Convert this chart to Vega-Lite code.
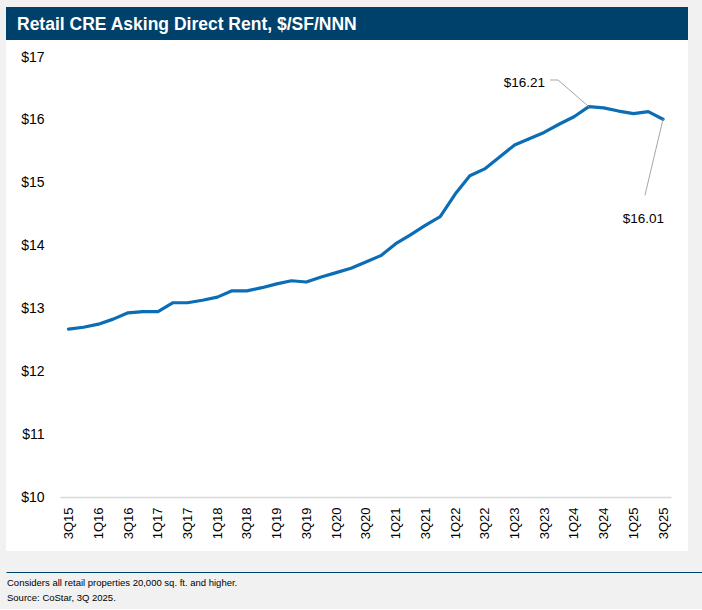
{
  "$schema": "https://vega.github.io/schema/vega-lite/v6.json",
  "background": "#f1f1f1",
  "padding": {"left": 6, "top": 7, "right": 0, "bottom": 6},
  "spacing": 0,
  "config": {"view": {"stroke": null}, "font": "Liberation Sans", "concat": {"spacing": 0}},
  "datasets": {
    "rent": [
      {"date": "2015-07-01", "v": 12.67},
      {"date": "2015-10-01", "v": 12.70},
      {"date": "2016-01-01", "v": 12.75},
      {"date": "2016-04-01", "v": 12.83},
      {"date": "2016-07-01", "v": 12.93},
      {"date": "2016-10-01", "v": 12.95},
      {"date": "2017-01-01", "v": 12.95},
      {"date": "2017-04-01", "v": 13.09},
      {"date": "2017-07-01", "v": 13.09},
      {"date": "2017-10-01", "v": 13.13},
      {"date": "2018-01-01", "v": 13.18},
      {"date": "2018-04-01", "v": 13.28},
      {"date": "2018-07-01", "v": 13.28},
      {"date": "2018-10-01", "v": 13.33},
      {"date": "2019-01-01", "v": 13.39},
      {"date": "2019-04-01", "v": 13.44},
      {"date": "2019-07-01", "v": 13.42},
      {"date": "2019-10-01", "v": 13.50},
      {"date": "2020-01-01", "v": 13.57},
      {"date": "2020-04-01", "v": 13.64},
      {"date": "2020-07-01", "v": 13.74},
      {"date": "2020-10-01", "v": 13.84},
      {"date": "2021-01-01", "v": 14.03},
      {"date": "2021-04-01", "v": 14.17},
      {"date": "2021-07-01", "v": 14.32},
      {"date": "2021-10-01", "v": 14.46},
      {"date": "2022-01-01", "v": 14.82},
      {"date": "2022-04-01", "v": 15.11},
      {"date": "2022-07-01", "v": 15.22},
      {"date": "2022-10-01", "v": 15.41},
      {"date": "2023-01-01", "v": 15.60},
      {"date": "2023-04-01", "v": 15.70},
      {"date": "2023-07-01", "v": 15.80},
      {"date": "2023-10-01", "v": 15.93},
      {"date": "2024-01-01", "v": 16.05},
      {"date": "2024-04-01", "v": 16.21},
      {"date": "2024-07-01", "v": 16.19},
      {"date": "2024-10-01", "v": 16.14},
      {"date": "2025-01-01", "v": 16.10},
      {"date": "2025-04-01", "v": 16.13},
      {"date": "2025-07-01", "v": 16.01}
    ],
    "leaders": [
      {"g": "peak", "date": "2023-08-07", "v": 16.634},
      {"g": "peak", "date": "2023-09-25", "v": 16.634},
      {"g": "peak", "date": "2024-04-01", "v": 16.21},
      {"g": "last", "date": "2025-03-12", "v": 14.80},
      {"g": "last", "date": "2025-07-01", "v": 16.01}
    ],
    "labels": [
      {"date": "2023-07-01", "v": 16.52, "label": "$16.21"},
      {"date": "2025-07-01", "v": 14.36, "label": "$16.01"}
    ]
  },
  "vconcat": [
    {
      "width": 682,
      "height": 33,
      "view": {"fill": "#00416b", "stroke": null},
      "title": {
        "text": "Retail CRE Asking Direct Rent, $/SF/NNN",
        "orient": "top",
        "anchor": "start",
        "frame": "group",
        "offset": -40,
        "baseline": "alphabetic",
        "dx": 11,
        "color": "#ffffff",
        "fontSize": 17.5,
        "fontWeight": "bold"
      },
      "data": {"values": []},
      "mark": "rule",
      "encoding": {}
    },
    {
      "width": 682,
      "height": 511,
      "view": {"fill": "#ffffff", "stroke": null},
      "encoding": {
        "x": {
          "field": "date",
          "type": "temporal",
          "scale": {
            "type": "utc",
            "domain": [
              {"year": 2015, "month": 5, "date": 10, "utc": true},
              {"year": 2025, "month": 8, "date": 19, "utc": true}
            ],
            "range": [54, 665],
            "nice": false
          },
          "axis": {
            "title": null,
            "orient": "bottom",
            "offset": -54,
            "grid": false,
            "ticks": false,
            "domainColor": "#d9d9d9",
            "domainWidth": 1.5,
            "tickCount": {"interval": "month", "step": 6},
            "labelExpr": "utcFormat(datum.value, '%qQ%y')",
            "labelAngle": 270,
            "labelAlign": "right",
            "labelBaseline": "middle",
            "labelPadding": 10,
            "labelFontSize": 13,
            "labelColor": "#000000",
            "labelFlush": false,
            "labelOverlap": false
          }
        },
        "y": {
          "field": "v",
          "type": "quantitative",
          "scale": {"domain": [10, 17], "range": [457, 17], "nice": false, "zero": false},
          "axis": {
            "title": null,
            "offset": -40,
            "domain": false,
            "ticks": false,
            "grid": false,
            "values": [10, 11, 12, 13, 14, 15, 16, 17],
            "labelExpr": "'$' + datum.label",
            "labelPadding": 2,
            "labelFontSize": 14,
            "labelColor": "#000000"
          }
        }
      },
      "layer": [
        {
          "data": {"name": "rent"},
          "mark": {"type": "line", "color": "#0b6db5", "strokeWidth": 3.2, "strokeJoin": "round", "strokeCap": "round"}
        },
        {
          "data": {"name": "leaders"},
          "mark": {"type": "line", "color": "#a6a6a6", "strokeWidth": 1},
          "encoding": {"detail": {"field": "g", "type": "nominal"}}
        },
        {
          "data": {"name": "labels"},
          "mark": {"type": "text", "align": "right", "baseline": "alphabetic", "dx": 1, "fontSize": 13.5, "color": "#000000"},
          "encoding": {"text": {"field": "label", "type": "nominal"}}
        }
      ]
    },
    {
      "width": 682,
      "height": 1,
      "data": {"values": []},
      "mark": "rule",
      "encoding": {
        "x": {
          "field": "a",
          "type": "quantitative",
          "scale": {"domain": [0, 1], "range": [0, 696]},
          "axis": {
            "title": null,
            "orient": "bottom",
            "offset": 20,
            "labels": false,
            "ticks": false,
            "grid": false,
            "domainColor": "#00416b",
            "domainWidth": 1
          }
        }
      },
      "title": {
        "text": ["Considers all retail properties 20,000 sq. ft. and higher.", "Source: CoStar, 3Q 2025."],
        "orient": "bottom",
        "anchor": "start",
        "offset": 14,
        "baseline": "alphabetic",
        "dx": 1,
        "lineHeight": 15,
        "fontSize": 9.5,
        "fontWeight": "normal",
        "color": "#000000"
      }
    }
  ]
}
